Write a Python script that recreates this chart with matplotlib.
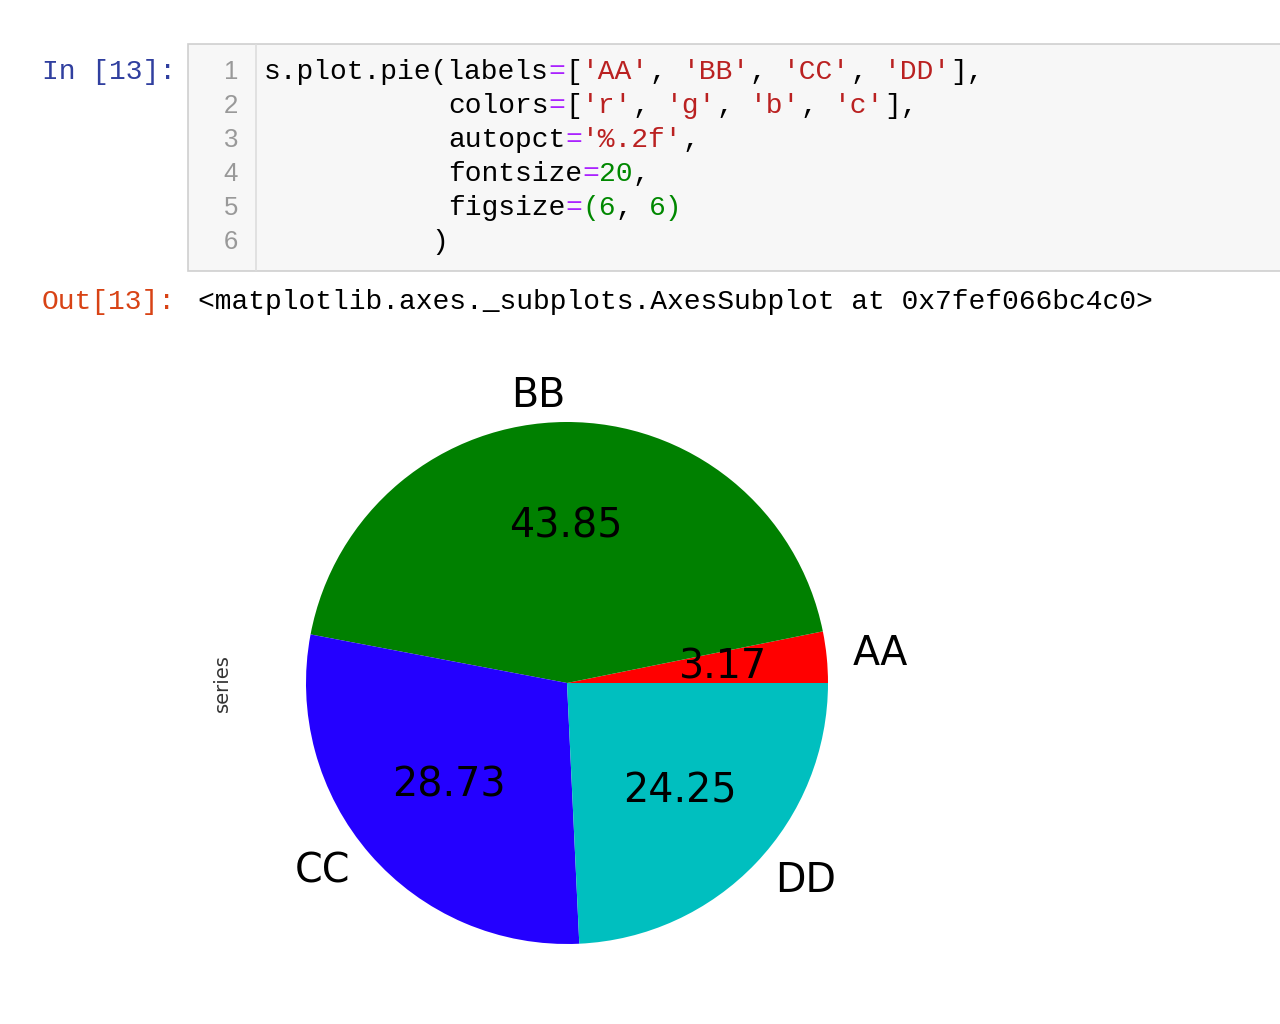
import matplotlib
matplotlib.use("Agg")
import matplotlib.pyplot as plt
from matplotlib.patches import Rectangle
from matplotlib.lines import Line2D

W, H = 1280, 1024

# --- data ---
labels = ["AA", "BB", "CC", "DD"]
values = [3.17, 43.85, 28.73, 24.25]
colors = ["#ff0000", "#008000", "#2400ff", "#00bfbf"]
ylabel = "series"

prompt_in = "In [13]:"
prompt_out = "Out[13]:"
out_repr = "<matplotlib.axes._subplots.AxesSubplot at 0x7fef066bc4c0>"

K, OP, STR, NUM = "#000000", "#aa22ff", "#ba2121", "#008800"
code_lines = [
    [("s.plot.pie(labels", K), ("=", OP), ("[", K), ("'AA'", STR), (", ", K), ("'BB'", STR),
     (", ", K), ("'CC'", STR), (", ", K), ("'DD'", STR), ("],", K)],
    [(" " * 11 + "colors", K), ("=", OP), ("[", K), ("'r'", STR), (", ", K), ("'g'", STR),
     (", ", K), ("'b'", STR), (", ", K), ("'c'", STR), ("],", K)],
    [(" " * 11 + "autopct", K), ("=", OP), ("'%.2f'", STR), (",", K)],
    [(" " * 11 + "fontsize", K), ("=", OP), ("20", NUM), (",", K)],
    [(" " * 11 + "figsize", K), ("=", OP), ("(6", NUM), (", ", K), ("6)", NUM)],
    [(" " * 10 + ")", K)],
]

def fx(x):
    return x / W

def fy(y):
    return 1 - y / H

fig = plt.figure(figsize=(W / 100, H / 100), dpi=100)
fig.patch.set_facecolor("white")

MONO = "Liberation Mono"
MSIZE = 20.2

# real advance of one monospace char, measured from a long string
probe = fig.text(0, 0, "M" * 50, family=MONO, size=MSIZE)
renderer = fig.canvas.get_renderer()
CHAR_W = probe.get_window_extent(renderer).width / 50
probe.remove()

# --- notebook cell ---
fig.add_artist(Rectangle((fx(188), fy(271)), fx(1300 - 188), (271 - 44) / H,
                         transform=fig.transFigure, facecolor="#f7f7f7",
                         edgecolor="#cfcfcf", lw=1.2))
fig.add_artist(Line2D([fx(256), fx(256)], [fy(45), fy(270)],
                      transform=fig.transFigure, color="#dddddd", lw=1.2))

fig.text(fx(42), fy(72), prompt_in, family=MONO, size=MSIZE, color="#303f9f",
         ha="left", va="center")
fig.text(fx(42), fy(302), prompt_out, family=MONO, size=MSIZE, color="#d84315",
         ha="left", va="center")
fig.text(fx(198), fy(302), out_repr, family=MONO, size=MSIZE, color="black",
         ha="left", va="center")

for i, toks in enumerate(code_lines):
    y = 72 + 34 * i
    fig.text(fx(238), fy(y), str(i + 1), family="Liberation Sans", size=18.5,
             color="#999999", ha="right", va="center")
    col = 0
    for txt, c in toks:
        lead = len(txt) - len(txt.lstrip(" "))
        body = txt.strip(" ")
        if body:
            fig.text(fx(264 + (col + lead) * CHAR_W), fy(y), body, family=MONO,
                     size=MSIZE, color=c, ha="left", va="center")
        col += len(txt)

# --- pie ---
cx, cy, r = 567, 683, 261
side = 2.5 * r
ax = fig.add_axes([fx(cx - side / 2), fy(cy + side / 2), side / W, side / H])
ax.pie(values, labels=labels, colors=colors, autopct="%.2f",
       textprops={"fontsize": 28.5}, wedgeprops={"linewidth": 0})
ax.set_aspect("equal")
ax.set_ylabel(ylabel, fontsize=14, color="#333333", labelpad=6)

fig.savefig("out.png", dpi=100)
